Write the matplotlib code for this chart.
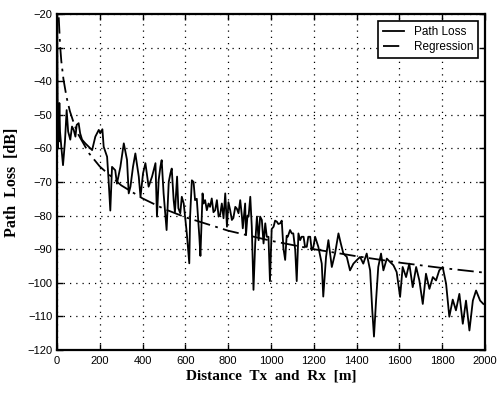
import numpy as np
import matplotlib.pyplot as plt

dist = [1, 2, 3, 4, 6, 8, 11, 14, 20, 28, 37, 45, 52, 62, 70, 78, 86, 92, 101, 108,
        117, 132, 148, 164, 179, 195, 202, 212, 218, 234, 241, 249, 257, 272, 280, 296,
        312, 327, 335, 343, 355, 366, 382, 390, 402, 413, 428, 444, 460, 467, 475, 483,
        489, 498, 512, 522, 530, 536, 545, 551, 561, 567, 576, 583, 592, 606, 614, 618,
        622, 630, 638, 645, 653, 661, 665, 670, 680, 685, 692, 700, 708, 715, 723, 731,
        739, 747, 755, 762, 770, 778, 786, 794, 801, 809, 817, 824, 833, 840, 848, 856,
        864, 868, 879, 883, 890, 895, 903, 910, 918, 926, 934, 942, 949, 957, 965, 973,
        980, 988, 995, 1003, 1012, 1019, 1027, 1034, 1043, 1050, 1058, 1066, 1073, 1078,
        1089, 1097, 1104, 1113, 1120, 1128, 1136, 1143, 1152, 1159, 1167, 1174, 1183,
        1190, 1198, 1206, 1221, 1237, 1244, 1257, 1268, 1284, 1299, 1315, 1326, 1338,
        1354, 1369, 1385, 1400, 1416, 1431, 1447, 1463, 1473, 1481, 1491, 1501, 1514,
        1525, 1541, 1556, 1572, 1587, 1603, 1615, 1631, 1646, 1662, 1678, 1693, 1709,
        1724, 1740, 1756, 1771, 1786, 1802, 1818, 1833, 1849, 1864, 1880, 1896, 1911,
        1927, 1943, 1958, 1977, 1992]
path_loss = [-21, -35, -55, -60, -50, -58, -46.5, -55, -59.5, -65, -58, -48.6, -55,
             -57.4, -53.5, -54.5, -56.5, -53, -52.5, -55.5, -57.4, -58.5, -59.5, -60.5,
             -56.5, -54.5, -55.5, -54.3, -59.5, -62.5, -69.5, -78.5, -65.5, -66.5,
             -70.5, -65.5, -58.5, -63.4, -73.4, -71.4, -65.5, -61.5, -68.4, -74.4,
             -67.4, -64.4, -71.4, -68.4, -64.4, -80.3, -69.4, -65.5, -63.5, -73.4,
             -84.3, -70, -67.4, -66, -75.4, -79, -68.4, -77.8, -79.3, -74.4, -76.4,
             -85, -91, -94.2, -80, -69.5, -70, -75.4, -75, -82.3, -86.3, -92, -73.4,
             -76.4, -75.4, -78.4, -76.4, -77.4, -74.9, -79, -78.4, -75.4, -80.3, -79.8,
             -76.4, -80.8, -73.4, -83.3, -76, -78.4, -81.3, -80.7, -77.4, -77.9, -79.3,
             -75.4, -80.3, -83.8, -76.4, -85.8, -80, -80.3, -74.4, -83.3, -102.1, -88.3,
             -80.3, -87.3, -80.3, -81.3, -88.3, -82.3, -86.3, -86.3, -99.5, -84, -83.3,
             -81.5, -81.8, -82.5, -82.3, -81.5, -89.8, -93.2, -86, -86.3, -84.3, -85.3,
             -85.3, -90.3, -99.5, -85.3, -87.3, -86.3, -86.3, -89.3, -89.3, -86.3,
             -86.3, -90.3, -89.3, -86.3, -89.3, -94.3, -104.1, -92.3, -87.3, -95.3,
             -91.3, -85.3, -88.3, -91.3, -92.3, -96.3, -94.3, -93.3, -92.3, -94.3,
             -91.3, -96.3, -108.2, -116, -105, -95.3, -91.3, -96.3, -92.8, -93.8,
             -94.8, -96.8, -104.2, -95.3, -98.3, -94.3, -101.3, -95.3, -99.3, -106.3,
             -97.3, -101.8, -98.3, -99.3, -96.3, -95.3, -100.3, -110.1, -105, -108.2,
             -103.3, -112.2, -105.3, -114.2, -105.3, -102.3, -105.3, -106.3]

# regression curve
reg_dist = [8, 14, 20, 30, 45, 60, 80, 100, 150, 200, 300, 400, 500, 600, 800, 1000,
            1200, 1400, 1600, 1800, 2000]
reg_loss = [-21, -29, -34, -39.4, -44.9, -48.9, -52.8, -55.9, -61.5, -65.4, -71, -74.9,
            -78, -80.5, -84.5, -87.5, -90, -92.1, -94, -95.6, -97]

fig = plt.figure(figsize=(4.98, 3.94), dpi=100)
ax = fig.add_axes([0.1145, 0.1117, 0.8595, 0.8528])

ax.plot(dist, path_loss, color='black', lw=1.3, label='Path Loss')
ax.plot(reg_dist, reg_loss, color='black', lw=1.3, linestyle=(0, (9, 3, 1.5, 3)),
        label='Regression')

ax.set_xlim(0, 2000)
ax.set_ylim(-120, -20)
ax.set_xticks(np.arange(0, 2001, 200))
ax.set_yticks(np.arange(-120, -19, 10))
ax.tick_params(direction='in', top=True, right=True, length=4, width=1, labelsize=8)
ax.tick_params(axis='x', pad=4)
ax.tick_params(axis='y', pad=3.5)
for lab in ax.get_xticklabels() + ax.get_yticklabels():
    lab.set_family('Liberation Sans')
for s in ax.spines.values():
    s.set_linewidth(1.6)
ax.grid(True, color='black', linestyle=(0, (1, 4)), linewidth=0.9)

ax.set_xlabel('Distance  Tx  and  Rx  [m]', family='Liberation Serif',
              fontweight='bold', fontsize=11, labelpad=3)
ax.set_ylabel('Path  Loss  [dB]', family='Liberation Serif',
              fontweight='bold', fontsize=11.5, labelpad=5)

leg = ax.legend(loc='upper right', frameon=True, fancybox=False,
                edgecolor='black', handlelength=1.8, borderaxespad=0.6,
                labelspacing=0.3, prop={'family': 'Liberation Sans', 'size': 8.5})
leg.get_frame().set_linewidth(1.2)
leg.get_frame().set_alpha(1)

plt.savefig('out.png', dpi=100)
